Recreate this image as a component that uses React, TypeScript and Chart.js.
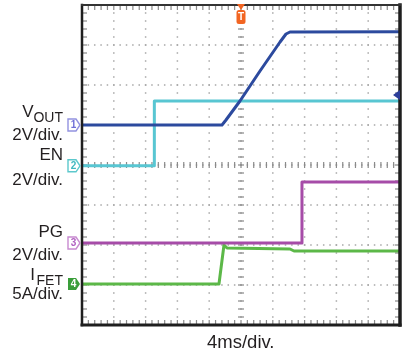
import React, { useEffect, useRef } from "react";
import { Chart, registerables } from "chart.js";

Chart.register(...registerables);

// Horizontal axis: time in ms, 4 ms/div, 10 divisions, trigger at 0
const X_MIN = -20;
const X_MAX = 20;
const X_DIV = 4;
// Vertical axis: screen divisions, 8 divisions
const Y_MIN = 0;
const Y_MAX = 8;

// Channel 1: VOUT (2 V/div)
const voutTime = [-20, -2.39, -1.89, -0.13, 2.39, 4.91, 5.66, 6.16, 20];
const voutDiv = [5.0, 5.0, 5.125, 5.6, 6.35, 7.075, 7.275, 7.325, 7.33];
// Channel 2: EN (2 V/div)
const enTime = [-20, -10.9, -10.9, 20];
const enDiv = [3.98, 3.98, 5.6, 5.6];
// Channel 3: PG (2 V/div)
const pgTime = [-20, 7.67, 7.67, 20];
const pgDiv = [2.05, 2.05, 3.575, 3.575];
// Channel 4: IFET (5 A/div)
const ifetTime = [-20, -2.77, -2.14, -1.76, 6.16, 6.67, 20];
const ifetDiv = [1.025, 1.025, 2.0, 1.925, 1.9, 1.85, 1.85];

const channelNames = ["1", "2", "3", "4"];
const channelLevels = [5.0, 3.98, 2.05, 1.025];
const traceColors = ["#2c4a9e", "#58c6d2", "#a64ca8", "#5cb848"];
const markerStroke = ["#9292e0", "#5cc8cc", "#c88ad0", "#3a9e3a"];
const markerText = ["#6f6fd8", "#3fb8c0", "#b060c0", "#ffffff"];
const markerFilled = [false, false, false, true];

const triggerTime = 0;
const triggerLevel = 5.75;

const FONT = '"Liberation Sans", Arial, Helvetica, sans-serif';

const pts = (t: number[], v: number[]) => t.map((x, i) => ({ x, y: v[i] }));

const scopeGrid = {
  id: "scopeGrid",
  beforeDatasetsDraw(chart: any) {
    const { ctx, chartArea: a, scales } = chart;
    const x = scales.x;
    const y = scales.y;
    ctx.save();
    const xMinorCount = ((X_MAX - X_MIN) / X_DIV) * 5;
    const yMinorCount = (Y_MAX - Y_MIN) * 5;
    const xMinor = (i: number) => x.getPixelForValue(X_MIN + (i * X_DIV) / 5);
    const yMinor = (j: number) => y.getPixelForValue(Y_MIN + j / 5);
    ctx.fillStyle = "#a8a8a8";
    for (let k = 1; k < (X_MAX - X_MIN) / X_DIV; k++) {
      const px = x.getPixelForValue(X_MIN + k * X_DIV);
      for (let j = 0; j <= yMinorCount; j++) {
        const py = yMinor(j);
        ctx.fillRect(px - 0.75, py - 0.75, 1.5, 1.5);
      }
    }
    for (let k = 1; k < Y_MAX - Y_MIN; k++) {
      const py = y.getPixelForValue(Y_MIN + k);
      for (let i = 0; i <= xMinorCount; i++) {
        const px = xMinor(i);
        ctx.fillRect(px - 0.75, py - 0.75, 1.5, 1.5);
      }
    }
    ctx.fillStyle = "#8a8a8a";
    const cx = x.getPixelForValue((X_MIN + X_MAX) / 2);
    const cy = y.getPixelForValue((Y_MIN + Y_MAX) / 2);
    for (let i = 0; i <= xMinorCount; i++) {
      const px = xMinor(i);
      ctx.fillRect(px - 0.6, cy - 3, 1.2, 6);
    }
    for (let j = 0; j <= yMinorCount; j++) {
      const py = yMinor(j);
      ctx.fillRect(cx - 3, py - 0.6, 6, 1.2);
    }
    for (let i = 0; i <= xMinorCount; i++) {
      const px = xMinor(i);
      ctx.fillRect(px - 0.6, a.bottom - 5, 1.2, 5);
      ctx.fillRect(px - 0.6, a.top, 1.2, 5);
    }
    for (let j = 0; j <= yMinorCount; j++) {
      const py = yMinor(j);
      ctx.fillRect(a.left, py - 0.6, 5, 1.2);
      ctx.fillRect(a.right - 5, py - 0.6, 5, 1.2);
    }
    ctx.restore();
  },
  afterDraw(chart: any) {
    const { ctx, chartArea: a, scales } = chart;
    const x = scales.x;
    const y = scales.y;
    ctx.save();
    ctx.strokeStyle = "#1e1e1e";
    ctx.lineCap = "square";
    ctx.lineWidth = 2.5;
    ctx.beginPath();
    ctx.moveTo(a.left, a.top);
    ctx.lineTo(a.left, a.bottom);
    ctx.stroke();
    ctx.lineWidth = 3;
    ctx.beginPath();
    ctx.moveTo(a.left, a.bottom);
    ctx.lineTo(a.right, a.bottom);
    ctx.stroke();
    ctx.lineWidth = 3.5;
    ctx.beginPath();
    ctx.moveTo(a.right, a.bottom);
    ctx.lineTo(a.right, a.top);
    ctx.stroke();
    ctx.strokeStyle = "#333333";
    ctx.lineWidth = 2;
    ctx.beginPath();
    ctx.moveTo(a.left, a.top);
    ctx.lineTo(a.right, a.top);
    ctx.stroke();

    // channel ground markers
    ctx.font = `bold 10px ${FONT}`;
    ctx.textAlign = "center";
    ctx.textBaseline = "middle";
    channelLevels.forEach((lvl, i) => {
      const py = y.getPixelForValue(lvl);
      const l = a.left - 14;
      ctx.beginPath();
      ctx.moveTo(l, py - 6);
      ctx.lineTo(l + 8, py - 6);
      ctx.lineTo(l + 12, py);
      ctx.lineTo(l + 8, py + 6);
      ctx.lineTo(l, py + 6);
      ctx.closePath();
      if (markerFilled[i]) {
        ctx.fillStyle = markerStroke[i];
        ctx.fill();
      } else {
        ctx.fillStyle = "#ffffff";
        ctx.fill();
        ctx.strokeStyle = markerStroke[i];
        ctx.lineWidth = 1.4;
        ctx.stroke();
      }
      ctx.fillStyle = markerText[i];
      ctx.fillText(channelNames[i], l + 5.5, py + 0.5);
    });

    // trigger time marker (top)
    const tx = x.getPixelForValue(triggerTime);
    ctx.fillStyle = "#f26522";
    ctx.beginPath();
    ctx.moveTo(tx - 4, a.top - 1);
    ctx.lineTo(tx + 4, a.top - 1);
    ctx.lineTo(tx, a.top + 5);
    ctx.closePath();
    ctx.fill();
    ctx.beginPath();
    (ctx as any).roundRect
      ? (ctx as any).roundRect(tx - 4.5, a.top + 5, 9, 14, 2.5)
      : ctx.rect(tx - 4.5, a.top + 5, 9, 14);
    ctx.fill();
    ctx.fillStyle = "#ffffff";
    ctx.font = `bold 10px ${FONT}`;
    ctx.fillText("T", tx, a.top + 12.5);

    // trigger level marker (right)
    const ty = y.getPixelForValue(triggerLevel);
    ctx.fillStyle = "#2c3e9a";
    ctx.beginPath();
    ctx.moveTo(a.right - 7, ty);
    ctx.lineTo(a.right, ty - 5);
    ctx.lineTo(a.right, ty + 5);
    ctx.closePath();
    ctx.fill();
    ctx.restore();
  },
};

type Lbl = { text: string; size: number; top: number; right?: number; left?: number };
const labels: Lbl[] = [
  { text: "V", size: 17, top: 102.6, right: 368.5 },
  { text: "OUT", size: 14, top: 110.2, right: 339 },
  { text: "2V/div.", size: 17, top: 125.6, right: 339 },
  { text: "EN", size: 17, top: 145.6, right: 339 },
  { text: "2V/div.", size: 17, top: 170.6, right: 339 },
  { text: "PG", size: 17, top: 222.6, right: 339 },
  { text: "2V/div.", size: 17, top: 245.6, right: 339 },
  { text: "I", size: 17, top: 265.6, right: 367 },
  { text: "FET", size: 14, top: 273.2, right: 339 },
  { text: "5A/div.", size: 17, top: 284.6, right: 339 },
  { text: "4ms/div.", size: 18.5, top: 332.5, left: 207 },
];

export default function App() {
  const ref = useRef<HTMLCanvasElement>(null);
  useEffect(() => {
    const chart = new Chart(ref.current as HTMLCanvasElement, {
      type: "line",
      data: {
        datasets: [
          { label: "VOUT", data: pts(voutTime, voutDiv), borderColor: traceColors[0] },
          { label: "EN", data: pts(enTime, enDiv), borderColor: traceColors[1] },
          { label: "PG", data: pts(pgTime, pgDiv), borderColor: traceColors[2] },
          { label: "IFET", data: pts(ifetTime, ifetDiv), borderColor: traceColors[3] },
        ],
      },
      options: {
        responsive: false,
        animation: false,
        devicePixelRatio: 1,
        layout: { padding: { left: 82, right: 2, top: 5, bottom: 31 } },
        elements: {
          point: { radius: 0 },
          line: { borderWidth: 3, tension: 0, borderJoinStyle: "round", borderCapStyle: "butt" },
        },
        scales: {
          x: { type: "linear", min: X_MIN, max: X_MAX, display: false },
          y: { type: "linear", min: Y_MIN, max: Y_MAX, display: false },
        },
        plugins: { legend: { display: false }, tooltip: { enabled: false } },
      },
      plugins: [scopeGrid],
    } as any);
    return () => chart.destroy();
  }, []);

  return (
    <div
      style={{
        position: "absolute",
        left: 0,
        top: 0,
        width: 402,
        height: 356,
        background: "#ffffff",
        overflow: "hidden",
        fontFamily: FONT,
        color: "#231f20",
      }}
    >
      <canvas
        ref={ref}
        width={402}
        height={356}
        style={{ position: "absolute", left: 0, top: 0, width: 402, height: 356 }}
      />
      {labels.map((l, i) => (
        <div
          key={i}
          style={{
            position: "absolute",
            top: l.top,
            left: l.left,
            right: l.right,
            fontSize: l.size,
            lineHeight: `${l.size}px`,
            whiteSpace: "nowrap",
            textAlign: l.right !== undefined ? "right" : "left",
          }}
        >
          {l.text}
        </div>
      ))}
    </div>
  );
}
